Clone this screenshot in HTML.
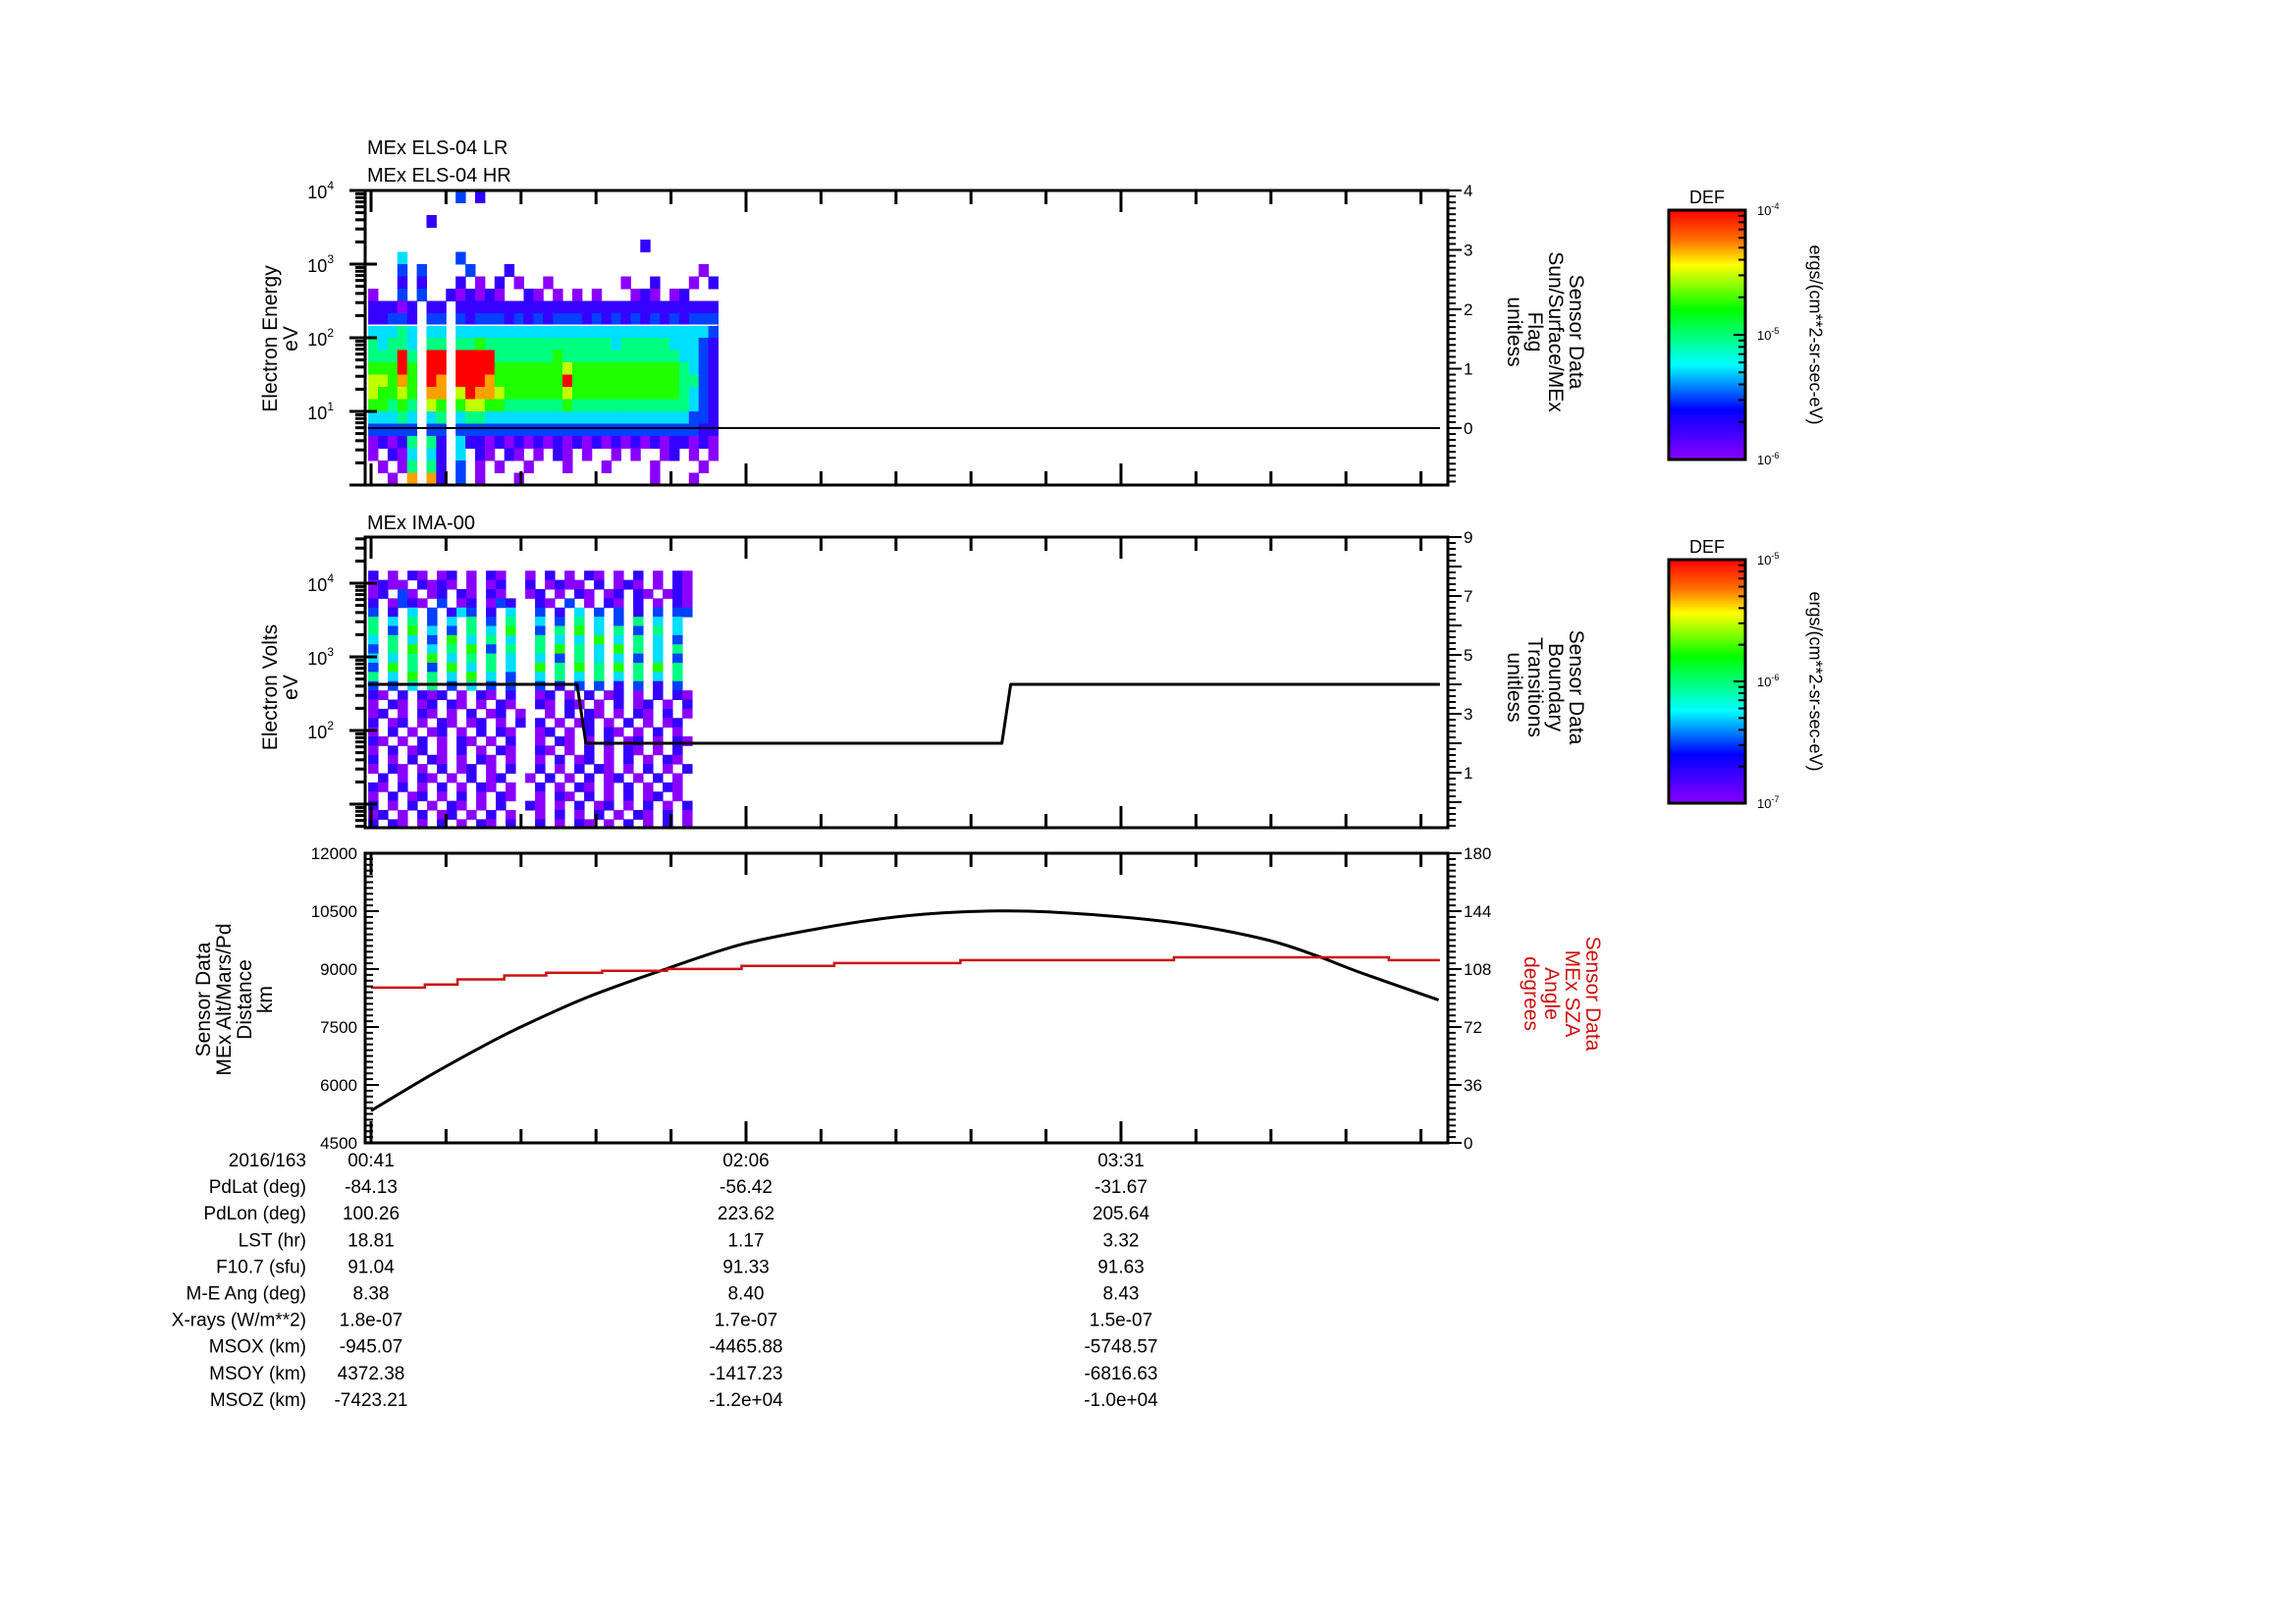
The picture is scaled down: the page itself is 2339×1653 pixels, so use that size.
<!DOCTYPE html>
<html><head><meta charset="utf-8"><title>MEx ELS / IMA summary plot</title>
<style>
html,body{margin:0;padding:0;background:#fff;}
svg{display:block;font-family:"Liberation Sans",sans-serif;}
</style></head>
<body>
<svg id="plot" width="2339" height="1653" viewBox="0 0 2339 1653" xmlns="http://www.w3.org/2000/svg">
<rect x="0" y="0" width="2339" height="1653" fill="#fff"/>
<defs>
<linearGradient id="cbar" x1="0" y1="0" x2="0" y2="1">
<stop offset="0" stop-color="#ff0000"/><stop offset="0.12" stop-color="#ff7000"/><stop offset="0.22" stop-color="#ffff00"/>
<stop offset="0.4" stop-color="#00ff00"/><stop offset="0.62" stop-color="#00ffff"/><stop offset="0.8" stop-color="#0000ff"/><stop offset="1" stop-color="#8a00ff"/>
</linearGradient>
</defs>
<g id="layer"></g>
</svg>
<script>
// ---------- data ----------
const timeTickMinutes = [41, 126, 211];
const timeTickLabels = ['00:41', '02:06', '03:31'];
const rowLabels = ['2016/163','PdLat (deg)','PdLon (deg)','LST (hr)','F10.7 (sfu)','M-E Ang (deg)','X-rays (W/m**2)','MSOX (km)','MSOY (km)','MSOZ (km)'];
const col0041 = ['00:41','-84.13','100.26','18.81','91.04','8.38','1.8e-07','-945.07','4372.38','-7423.21'];
const col0206 = ['02:06','-56.42','223.62','1.17','91.33','8.40','1.7e-07','-4465.88','-1417.23','-1.2e+04'];
const col0331 = ['03:31','-31.67','205.64','3.32','91.63','8.43','1.5e-07','-5748.57','-6816.63','-1.0e+04'];

const altTimes = [41,54,65,74,90,108,125,143,160,175,190,210,227,244,255,265,283];
const altKm    = [5333,6220,6920,7450,8270,9010,9640,10060,10350,10480,10500,10360,10140,9760,9360,8920,8200];
const szaStepStart = [41,53.2,60.6,71.2,80.7,93.4,108.1,125,146,174.6,223,271.7];
const szaStepEnd   = [53.2,60.6,71.2,80.7,93.4,108.1,125,146,174.6,223,271.7,283.3];
const szaDeg       = [96.5,98.4,101.6,104,105.7,106.9,108.1,110,111.7,113.6,115.3,113.6];

const flagTimes = [40.3, 283.3];
const flagValues = [0, 0];
const boundTimes  = [40.3, 87.7, 89.7, 184, 186, 283.3];
const boundValues = [4, 4, 2, 2, 4, 4];

// ELS spectrogram (log-DEF level 1..9, '.' = no data); rows from 10^4 downward, 1/6 decade each
const elsStartMin = 40.35, elsBinMin = 2.203;
const elsRows = [
".........3.2........................",
"....................................",
"......2.............................",
"....................................",
"............................2.......",
"...4.....3..........................",
"...3.3....3...2...................1.",
"...2.2...2.1.2.1..1.......1..2...1.2",
"1..3.3..212121..21.1.1.1...121.12...",
"22212.22.222222222222222222222222222",
"22332.33.323332323233323232323232333",
"44454.44.444444444444444444444444443",
"54554.55.556555555555555545555544432",
"55595.99.999955555565555555555554432",
"66696.99.999966666667666666666665432",
"77686.98.999866666669666666666665532",
"76676.88.798876666667666666666665432",
"66565.76.677665555556555555555555432",
"44454.45.455444444444444444444444332",
"33333.33.333333333333333333333333322",
"12125.52.422121212121212121212122121",
"1.214.42.4.21.21.1.21.1..1.1..12.1.1",
".1.15.52.3.1.1..1...1...1....1....1.",
"..1.8.82.3.1...1.............1...1.."
];
// IMA spectrogram; rows from 10^4.17 downward, 1/8 decade each
const imaStartMin = 40.35, imaBinMin = 2.225;
const imaRows = [
"2.1.21.12.1.21..1.2.1.21.1.2.1.21",
"1211.2121.1.12..2.1211.2.121.1.21",
"12.31.12.21.21..12.1.21.12.21.121",
"2.1321.3.12.132..21.3.1.21.2.1.21",
"3.2.4.3.243.2.4..3.2.4.3.3.2.3.33",
"5.4.5.3.4.5.3.5..4.3.5.4.3.5.4.4.",
"5.3.6.4.3.5.4.6..3.5.6.4.5.3.5.4.",
"4.5.4.3.6.4.5.4..5.4.4.6.4.5.4.3.",
"3.5.6.4.5.6.3.5..5.6.5.4.6.5.4.5.",
"4.4.5.6.4.5.5.4..4.3.5.4.4.3.4.3.",
"3.6.5.3.6.4.5.4..6.5.6.5.6.5.6.5.",
"5.4.6.5.4.6.4.3..4.5.4.5.4.5.4.5.",
"3.3.4.5.3.4.3.3..3.2.3.3.2.3.2.3.",
"21.2.212.1.21.2..12.1.2.12.1.2.21",
"1.21.12.21.1.21..21.21.1.2.12.1.2",
"12.1.21.1.2.12.1..1.2.21.1.21.2.1",
"2.12.1.21.12.1.2.2.1.12.1.2.1.12.",
"1.2.1.12.1.2.21..12.1.2.21.1.2.1.",
"21.1.2.1.21.1.2..1.21.1.2.12.1.21",
"1.2.12.1.2.1.21..21.1.2.1.21.1.2.",
"2.1.2.21.1.21.1..1.2.12.1.2.1.21.",
"1.21.1.2.12.1.2..2.1.2.21.1.2.1.2",
".2.1.21.1.2.12..1.2.1.2.12.1.2.1.",
"21.2.1.2.1.21.1..2.1.21.1.2.1.21.",
"1.2.12.1.2.1.21..1.21.2.1.2.12.1.",
"2.1.2.1.21.1.2..21.1.2.12.1.2.1.2",
"12.1.2.12.1.2.1..1.2.1.2.1.21.2.1",
"2.21.1.2.1.21.2..2.1.21.1.2.1.2.1"
];

// ---------- layout / scales ----------
const L = 372, R = 1475;
const P1 = {top:194, bot:494}, P2 = {top:547, bot:843}, P3 = {top:869, bot:1164};
function xT(t){ return 378 + (t - 41) * 4.494; }
function y1(lg){ return P1.bot - lg * 75; }
function yR1(v){ return 436 - v * 60.5; }
function y2(lg){ return 594 + (4 - lg) * 75; }
function yR2(v){ return P2.top + (9 - v) * 30; }
function y3(km){ return P3.bot - (km - 4500) / 7500 * (P3.bot - P3.top); }
function yR3(d){ return P3.bot - d / 180 * (P3.bot - P3.top); }

const NS = 'http://www.w3.org/2000/svg';
const layer = document.getElementById('layer');
function mk(tag, attrs, parent){
  const e = document.createElementNS(NS, tag);
  for (const k in attrs) e.setAttribute(k, attrs[k]);
  (parent || layer).appendChild(e);
  return e;
}
function txt(s, x, y, size, anchor, parent, fill){
  const e = mk('text', {x:x, y:y, 'font-size':size, 'text-anchor':anchor||'start', fill:fill||'#000'}, parent);
  e.textContent = s;
  return e;
}
function cmap(level){
  const stops = [[138,0,255],[0,0,255],[0,255,255],[0,255,0],[255,255,0],[255,0,0]];
  const f = Math.max(0, Math.min(1, (level - 1) / 8)) * (stops.length - 1);
  const i = Math.min(stops.length - 2, Math.floor(f)), r = f - i;
  const c = stops[i].map((v, k) => Math.round(v + (stops[i+1][k] - v) * r));
  return 'rgb(' + c.join(',') + ')';
}

// ---------- spectrograms ----------
const g1 = mk('g', {});


elsRows.forEach((row, r) => {
  for (let c = 0; c < row.length; c++) {
    const ch = row[c]; if (ch === '.') continue;
    const x0 = xT(elsStartMin + c * elsBinMin), x1 = xT(elsStartMin + (c + 1) * elsBinMin);
    const ya = y1(4 - r / 6), yb = y1(4 - (r + 1) / 6);
    const cell = mk('rect', {x:x0, y:ya, width:x1 - x0 + 0.5, height:yb - ya + 0.5, fill:cmap(+ch)}, g1);
    
    
  }
});
mk('line', {x1:xT(elsStartMin), x2:xT(elsStartMin + 36 * elsBinMin), y1:y1(2.17), y2:y1(2.17), stroke:'#fff', 'stroke-width':1.5}, g1);

const g2 = mk('g', {});


imaRows.forEach((row, r) => {
  for (let c = 0; c < row.length; c++) {
    const ch = row[c]; if (ch === '.') continue;
    const x0 = xT(imaStartMin + c * imaBinMin), x1 = xT(imaStartMin + (c + 1) * imaBinMin);
    const ya = y2(4.17 - r / 8), yb = y2(4.17 - (r + 1) / 8);
    const cell = mk('rect', {x:x0, y:ya, width:x1 - x0 + 0.5, height:yb - ya + 0.5, fill:cmap(+ch)}, g2);
    
    
  }
});

// ---------- line series ----------
function poly(ts, vs, xs, ys, color, w, name){
  const p = mk('polyline', {points: ts.map((t, i) => xs(t) + ',' + ys(vs[i])).join(' '), fill:'none', stroke:color, 'stroke-width':w, 'stroke-linejoin':'round'});
  
  
}
poly(flagTimes, flagValues, xT, yR1, '#000', 2, 'sun-surface-flag-line');
poly(boundTimes, boundValues, xT, yR2, '#000', 3, 'boundary-transitions-line');
(function(){
  const pts = altTimes.map((t, i) => [xT(t), y3(altKm[i])]);
  let d = 'M' + pts[0][0] + ',' + pts[0][1];
  for (let i = 0; i < pts.length - 1; i++) {
    const p0 = pts[Math.max(0, i - 1)], p1 = pts[i], p2 = pts[i + 1], p3 = pts[Math.min(pts.length - 1, i + 2)];
    const c1 = [p1[0] + (p2[0] - p0[0]) / 6, p1[1] + (p2[1] - p0[1]) / 6];
    const c2 = [p2[0] - (p3[0] - p1[0]) / 6, p2[1] - (p3[1] - p1[1]) / 6];
    d += ' C' + c1[0] + ',' + c1[1] + ' ' + c2[0] + ',' + c2[1] + ' ' + p2[0] + ',' + p2[1];
  }
  const a = mk('path', {d:d, fill:'none', stroke:'#000', 'stroke-width':3});
  
  
})();
const szaPts = [];
szaDeg.forEach((d, i) => { szaPts.push(xT(szaStepStart[i]) + ',' + yR3(d)); szaPts.push(xT(szaStepEnd[i]) + ',' + yR3(d)); });
const sz = mk('polyline', {points: szaPts.join(' '), fill:'none', stroke:'#cc1111', 'stroke-width':2.5});



// ---------- frames & ticks ----------
function frame(P, name){
  const f = mk('rect', {x:L, y:P.top, width:R - L, height:P.bot - P.top, fill:'none', stroke:'#000', 'stroke-width':3});
  
  
  for (let t = 41 - 17; t <= 290; t += 17) {
    const x = xT(t); if (x < L || x > R) continue;
    const major = timeTickMinutes.indexOf(t) >= 0;
    const len = major ? 22 : 14;
    mk('line', {x1:x, x2:x, y1:P.top, y2:P.top + len, stroke:'#000', 'stroke-width':3});
    mk('line', {x1:x, x2:x, y1:P.bot, y2:P.bot - len, stroke:'#000', 'stroke-width':3});
  }
}
frame(P1, 'els-panel-frame'); frame(P2, 'ima-panel-frame'); frame(P3, 'altitude-panel-frame');

function logAxis(P, yf, lo, hi, labels){
  for (let d = Math.floor(lo); d <= hi; d++) {
    for (let m = 1; m <= 9; m++) {
      const lg = d + Math.log10(m); if (lg < lo || lg > hi) continue;
      const y = yf(lg), len = m === 1 ? 16 : 10;
      mk('line', {x1:L - len, x2:L, y1:y, y2:y, stroke:'#000', 'stroke-width':3});
      mk('line', {x1:L, x2:L + (m === 1 ? 12 : 0), y1:y, y2:y, stroke:'#000', 'stroke-width':3});
    }
  }
  labels.forEach(d => {
    const t = txt('10', L - 32, yf(d) + 8, 18, 'end');
    const s = mk('tspan', {'font-size':12, dy:-9}, t); s.textContent = String(d);
    
    
  });
}
logAxis(P1, y1, 0, 4, [1,2,3,4]);
logAxis(P2, y2, 0.68, 4.63, [2,3,4]);

function linRight(P, yf, lo, hi, step, majorEvery, labelVals){
  for (let i = 0; lo + i * step <= hi + 1e-9; i++) {
    const v = lo + i * step, y = yf(v); if (y < P.top - 1 || y > P.bot + 1) continue;
    const maj = Math.abs(v / majorEvery - Math.round(v / majorEvery)) < 1e-6;
    mk('line', {x1:R, x2:R + (maj ? 14 : 8), y1:y, y2:y, stroke:'#000', 'stroke-width':2});
  }
  labelVals.forEach(v => {
    const t = txt(String(v), R + 16, yf(v) + 6, 17, 'start');
    
    
  });
}
linRight(P1, yR1, -0.9, 4, 0.1, 1, [0,1,2,3,4]);
linRight(P2, yR2, -0.8, 9, 0.2, 1, [1,3,5,7,9]);
linRight(P3, yR3, 0, 180, 3.6, 36, [0,36,72,108,144,180]);
for (let km = 4500; km <= 12000; km += 150) {
  const y = y3(km), maj = (km - 4500) % 1500 === 0;
  mk('line', {x1:L, x2:L + (maj ? 14 : 8), y1:y, y2:y, stroke:'#000', 'stroke-width':2});
}
[4500,6000,7500,9000,10500,12000].forEach(km => {
  const t = txt(String(km), L - 8, y3(km) + 6, 17, 'end');
  
  
});

// ---------- titles & axis labels ----------
function vlabel(lines, cx, cy, rot, size, fill, name){
  const g = mk('g', {transform:'translate(' + cx + ',' + cy + ') rotate(' + rot + ')'});
  
  
  const n = lines.length;
  lines.forEach((s, i) => txt(s, 0, (i - (n - 1) / 2) * size * 1.0 + size * 0.35, size, 'middle', g, fill));
}
const t1 = txt('MEx ELS-04 LR', 374, 157, 20);  
const t2 = txt('MEx ELS-04 HR', 374, 185, 20);  
const t3 = txt('MEx IMA-00', 374, 539, 20);  
vlabel(['Electron Energy','eV'], 285, 345, -90, 21, '#000', 'els-y-axis-title');
vlabel(['Electron Volts','eV'], 285, 700, -90, 21, '#000', 'ima-y-axis-title');
vlabel(['Sensor Data','MEx Alt/Mars/Pd','Distance','km'], 238, 1018, -90, 21, '#000', 'altitude-y-axis-title');
vlabel(['Sensor Data','Sun/Surface/MEx','Flag','unitless'], 1575, 338, 90, 21, '#000', 'flag-right-axis-title');
vlabel(['Sensor Data','Boundary','Transitions','unitless'], 1575, 700, 90, 21, '#000', 'boundary-right-axis-title');
vlabel(['Sensor Data','MEx SZA','Angle','degrees'], 1592, 1012, 90, 21, '#cc1111', 'sza-right-axis-title');

// ---------- colorbars ----------
function colorbar(top, bot, exps, name){
  const g = mk('g', {});
  
  
  mk('rect', {x:1700, y:top, width:78, height:bot - top, fill:'url(#cbar)', stroke:'#000', 'stroke-width':3}, g);
  txt('DEF', 1739, top - 7, 18, 'middle', g);
  const dec = (bot - top) / 2;
  for (let d = 0; d < 2; d++) for (let m = 1; m <= 9; m++) {
    const y = bot - d * dec - Math.log10(m) * dec;
    mk('line', {x1:1778 - (m === 1 ? 12 : 7), x2:1778, y1:y, y2:y, stroke:'#000', 'stroke-width':2}, g);
  }
  exps.forEach((e, i) => {
    const y = top + i * dec;
    const t = txt('10', 1790, y + 5, 13, 'start', g);
    const s = mk('tspan', {'font-size':9, dy:-6}, t); s.textContent = String(e);
  });
  vlabel(['ergs/(cm**2-sr-sec-eV)'], 1850, (top + bot) / 2, 90, 18, '#000', name + '-units');
}
colorbar(214, 468, [-4,-5,-6], 'els-colorbar');
colorbar(570, 818, [-5,-6,-7], 'ima-colorbar');

// ---------- bottom ephemeris table ----------
const rowY0 = 1188, rowDy = 27.1;
rowLabels.forEach((s, i) => {
  const t = txt(s, 312, rowY0 + i * rowDy, 19, 'end');
  
  
});
[col0041, col0206, col0331].forEach((col, k) => {
  col.forEach((s, i) => {
    const t = txt(s, xT(timeTickMinutes[k]), rowY0 + i * rowDy, 19, 'middle');
    
    
  });
});
</script>
</body></html>
